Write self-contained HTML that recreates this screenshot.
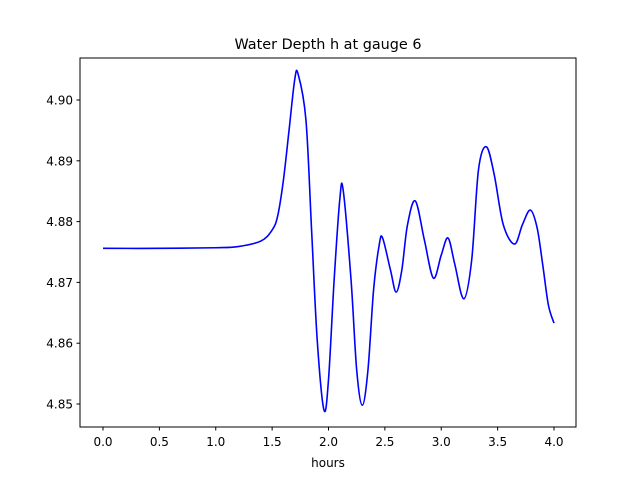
<!DOCTYPE html>
<html><head><meta charset="utf-8"><style>
body{margin:0;background:#fff;font-family:"DejaVu Sans","Liberation Sans",sans-serif;}
</style></head><body>
<svg id="chart" width="640" height="480" xmlns="http://www.w3.org/2000/svg">
<rect width="640" height="480" fill="#fff"/>
<text x="328" y="49" font-size="14.4" text-anchor="middle" font-family="DejaVu Sans, Liberation Sans, sans-serif">Water Depth h at gauge 6</text>
<g id="xt"></g>
<g id="yt"></g>
<path id="line" fill="none" stroke="#0000ff" stroke-width="1.6"/>
<rect x="80" y="58" width="496" height="369" fill="none" stroke="#000" stroke-width="1"/>
<text x="328" y="467" font-size="12" text-anchor="middle" font-family="DejaVu Sans, Liberation Sans, sans-serif">hours</text>
</svg>
<script>
const hours=[0,0.5,1.0,1.2,1.4,1.5,1.55,1.6,1.65,1.7,1.73,1.8,1.85,1.9,1.96,2.0,2.05,2.1,2.13,2.2,2.25,2.3,2.35,2.4,2.45,2.48,2.55,2.6,2.65,2.7,2.77,2.85,2.93,3.0,3.06,3.12,3.2,3.27,3.33,3.4,3.47,3.55,3.65,3.72,3.79,3.85,3.9,3.95,4.0];
const depth=[4.8756,4.8756,4.8757,4.8759,4.8768,4.8786,4.881,4.8868,4.895,4.9033,4.9043,4.8967,4.8786,4.8605,4.849,4.854,4.8704,4.8836,4.8852,4.8704,4.8556,4.8498,4.8556,4.8688,4.8762,4.8773,4.872,4.8684,4.872,4.8794,4.8834,4.877,4.8707,4.8745,4.8773,4.873,4.8673,4.8737,4.8885,4.8923,4.8877,4.8795,4.8763,4.8795,4.8819,4.879,4.8729,4.8663,4.8633];
const xTicks=[0,0.5,1.0,1.5,2.0,2.5,3.0,3.5,4.0];
const xTickLabels=["0.0","0.5","1.0","1.5","2.0","2.5","3.0","3.5","4.0"];
const yTicks=[4.85,4.86,4.87,4.88,4.89,4.90];
const yTickLabels=["4.85","4.86","4.87","4.88","4.89","4.90"];
const X=v=>103+v*112.75;
const Y=v=>100+(4.90-v)*6080;
const NS="http://www.w3.org/2000/svg";
const xt=document.getElementById('xt'),yt=document.getElementById('yt');
xTicks.forEach((t,i)=>{
 const l=document.createElementNS(NS,'line');
 
 
 l.setAttribute('x1',X(t));l.setAttribute('x2',X(t));l.setAttribute('y1',427);l.setAttribute('y2',430.5);l.setAttribute('stroke','#000');
 xt.appendChild(l);
 const s=document.createElementNS(NS,'text');
 
 
 s.setAttribute('x',X(t));s.setAttribute('y',446);s.setAttribute('font-size','12');s.setAttribute('text-anchor','middle');
 s.textContent=xTickLabels[i];xt.appendChild(s);
});
yTicks.forEach((t,i)=>{
 const l=document.createElementNS(NS,'line');
 
 
 l.setAttribute('x1',76.5);l.setAttribute('x2',80);l.setAttribute('y1',Y(t));l.setAttribute('y2',Y(t));l.setAttribute('stroke','#000');
 yt.appendChild(l);
 const s=document.createElementNS(NS,'text');
 
 
 s.setAttribute('x',73);s.setAttribute('y',Y(t)+4.5);s.setAttribute('font-size','12');s.setAttribute('text-anchor','end');
 s.textContent=yTickLabels[i];yt.appendChild(s);
});
const P=hours.map((h,i)=>[X(h),Y(depth[i])]);
let d=`M${P[0][0]},${P[0][1]}`;
for(let i=0;i<P.length-1;i++){
 const p0=P[Math.max(0,i-1)],p1=P[i],p2=P[i+1],p3=P[Math.min(P.length-1,i+2)];
 const c1=[p1[0]+(p2[0]-p0[0])/6,p1[1]+(p2[1]-p0[1])/6];
 const c2=[p2[0]-(p3[0]-p1[0])/6,p2[1]-(p3[1]-p1[1])/6];
 d+=` C${c1[0]},${c1[1]} ${c2[0]},${c2[1]} ${p2[0]},${p2[1]}`;
}
document.getElementById('line').setAttribute('d',d);
</script>
</body></html>
